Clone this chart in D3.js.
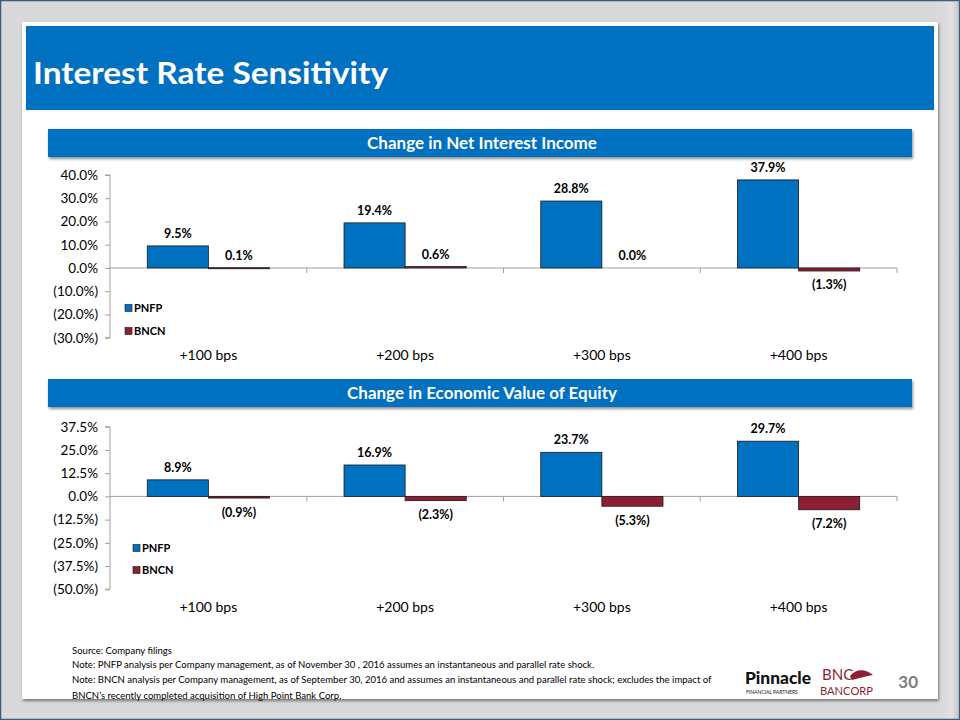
<!DOCTYPE html>
<html><head><meta charset="utf-8">
<script src="https://cdn.jsdelivr.net/npm/d3@7"></script>
<style>body{margin:0;background:#fff}svg{display:block}text{font-family:Lato,"Open Sans",sans-serif}</style>
</head><body><svg id="c" width="960" height="720"></svg>
<script>
const categories = ["+100 bps","+200 bps","+300 bps","+400 bps"];
const seriesNames = ["PNFP","BNCN"];
const niiPNFP = [9.5, 19.4, 28.8, 37.9];
const niiBNCN = [0.1, 0.6, 0.0, -1.3];
const evePNFP = [8.9, 16.9, 23.7, 29.7];
const eveBNCN = [-0.9, -2.3, -5.3, -7.2];
const niiTicks = [-30,-20,-10,0,10,20,30,40];
const eveTicks = [-50,-37.5,-25,-12.5,0,12.5,25,37.5];
const colors = {PNFP:"#0070C0", BNCN:"#8C1F33"};
const footnotes = [
 "Source: Company filings",
 "Note: PNFP analysis per Company management, as of November 30 , 2016 assumes an instantaneous and parallel rate shock.",
 "Note: BNCN analysis per Company management, as of September 30, 2016 and assumes an instantaneous and parallel rate shock; excludes the impact of",
 "BNCN\u2019s recently completed acquisition of High Point Bank Corp."
];

const svg = d3.select("#c");
const defs = svg.append("defs");
const f = defs.append("filter").attr("id","sh").attr("x","-5%").attr("y","-20%").attr("width","110%").attr("height","160%");
f.append("feGaussianBlur").attr("in","SourceAlpha").attr("stdDeviation",1.5);
f.append("feOffset").attr("dx",1).attr("dy",2).attr("result","o");
f.append("feComponentTransfer").append("feFuncA").attr("type","linear").attr("slope",0.45);
const m = f.append("feMerge"); m.append("feMergeNode"); m.append("feMergeNode").attr("in","SourceGraphic");

// fit helper: pick a font size so the natural width matches the target
function fitText(sel, target, maxSize){
  sel.attr("font-size", maxSize);
  const w = sel.node().getComputedTextLength();
  const s = Math.min(maxSize, maxSize*target/w);
  sel.attr("font-size", s);
  return s;
}

// frame
svg.append("rect").attr("x",0.5).attr("y",0.5).attr("width",959).attr("height",719).attr("fill","#d9d9d9").attr("stroke","#3c5a86").attr("stroke-width",1.5);
const g1 = defs.append("linearGradient").attr("id","rg").attr("x1",0).attr("x2",1);
g1.append("stop").attr("offset",0).attr("stop-color","#d9d9d9");
g1.append("stop").attr("offset",0.6).attr("stop-color","#e2e2e2");
g1.append("stop").attr("offset",1).attr("stop-color","#c8c8c8");
svg.append("rect").attr("x",942).attr("y",2).attr("width",16).attr("height",716).attr("fill","url(#rg)");
svg.append("rect").attr("x",22).attr("y",22).attr("width",916).attr("height",677).attr("fill","#fff").attr("filter","url(#sh)");
svg.append("rect").attr("x",26).attr("y",26).attr("width",908).attr("height",84).attr("fill","#0070C0");
svg.append("text").attr("x",33).attr("y",84).attr("fill","#fff").attr("font-size",31).attr("font-weight",700)
  .attr("textLength",355).attr("lengthAdjust","spacingAndGlyphs").text("Interest Rate Sensitivity");

function fmt(v){ const s = Math.abs(v).toFixed(1)+"%"; return v<0 ? "("+s+")" : s; }

function chart(opt){
  const {title, barY, pnfp, bncn, ticks, domain, yTop, yBot, catY, legX, legY} = opt;
  svg.append("rect").attr("x",48).attr("y",barY).attr("width",864).attr("height",28).attr("fill","#0070C0").attr("filter","url(#sh)");
  svg.append("text").attr("x",482).attr("y",barY+19.5).attr("text-anchor","middle").attr("fill","#fff")
    .attr("font-size",17).attr("font-weight",700).text(title);
  const y = d3.scaleLinear().domain(domain).range([yBot,yTop]);
  const x0 = d3.scaleBand().domain(categories).range([110,897]);
  const x1 = d3.scaleBand().domain(seriesNames).range([0,x0.bandwidth()]).paddingInner(0).paddingOuter(0.61);
  const g = svg.append("g");
  const ya = g.append("g").attr("transform","translate(110,0)").call(d3.axisLeft(y).tickValues(ticks).tickFormat(fmt).tickSize(5).tickPadding(7));
  ya.select(".domain").attr("stroke","#a0a0a0").attr("d",`M-5,${yTop}H0V${yBot}H-5`);
  ya.selectAll(".tick line").attr("stroke","#a0a0a0");
  ya.selectAll(".tick text").attr("font-size",13.5).attr("fill","#000").attr("font-family","Lato,sans-serif");
  const y0 = y(0);
  g.append("line").attr("x1",110).attr("x2",897).attr("y1",y0).attr("y2",y0).attr("stroke","#a0a0a0");
  const bounds = categories.map(c=>x0(c)).concat([897]).slice(1);
  g.selectAll(".ct").data(bounds).join("line").attr("x1",d=>d).attr("x2",d=>d).attr("y1",y0).attr("y2",y0+5).attr("stroke","#a0a0a0");
  const rows = [];
  categories.forEach((c,i)=>{ rows.push({c,s:"PNFP",v:pnfp[i]}); rows.push({c,s:"BNCN",v:bncn[i]}); });
  g.selectAll(".bar").data(rows.filter(d=>d.v!==0)).join("rect")
    .attr("x",d=>x0(d.c)+x1(d.s)).attr("width",x1.bandwidth())
    .attr("y",d=>Math.min(y(d.v),y0)).attr("height",d=>Math.max(Math.abs(y(d.v)-y0),1))
    .attr("fill",d=>colors[d.s]).attr("stroke","#1a1a1a").attr("stroke-width",0.8);
  g.selectAll(".lbl").data(rows).join("text")
    .attr("x",d=>x0(d.c)+x1(d.s)+x1.bandwidth()/2)
    .attr("y",d=> d.v<0 ? y(d.v)+18.5 : y(d.v)-8)
    .attr("text-anchor","middle").attr("font-size",12.5).attr("font-weight",700).attr("fill","#000").text(d=>fmt(d.v));
  g.selectAll(".cat").data(categories).join("text").attr("x",d=>x0(d)+x0.bandwidth()/2).attr("y",catY+5)
    .attr("text-anchor","middle").attr("font-size",14).attr("fill","#000").text(d=>d);
  seriesNames.forEach((s,i)=>{
    const ly = legY[i];
    g.append("rect").attr("x",legX).attr("y",ly-3.5).attr("width",7).attr("height",7).attr("fill",colors[s]).attr("stroke","#1a1a1a").attr("stroke-width",0.6);
    g.append("text").attr("x",legX+9).attr("y",ly+4).attr("font-size",11).attr("font-weight",700).attr("fill","#000").text(s);
  });
}

chart({title:"Change in Net Interest Income", barY:129, pnfp:niiPNFP, bncn:niiBNCN, ticks:niiTicks, domain:[-30,40], yTop:175, yBot:337.7, catY:355, legX:125, legY:[308,331]});
chart({title:"Change in Economic Value of Equity", barY:379, pnfp:evePNFP, bncn:eveBNCN, ticks:eveTicks, domain:[-50,37.5], yTop:426.7, yBot:589.3, catY:607, legX:133, legY:[548,570]});

// footnotes: one shared size, chosen so the longest line ends where the reference's does
const fn = svg.selectAll(".fn").data(footnotes).join("text").attr("x",72).attr("y",(d,i)=>[654,668,683,699][i])
  .attr("fill","#000").attr("font-family","'DejaVu Sans Condensed','DejaVu Sans',sans-serif").attr("font-stretch","condensed")
  .text(d=>d);
const fs = fitText(d3.select(fn.nodes()[2]), 640, 11.5);
fn.attr("font-size", fs);

// logos
const pin = svg.append("text").attr("x",745).attr("y",684).attr("font-weight",900).attr("fill","#111")
  .attr("font-family","'DejaVu Sans Condensed','DejaVu Sans',sans-serif").attr("font-stretch","condensed").text("Pinnacle");
fitText(pin, 66, 19);
const fp = svg.append("text").attr("x",746).attr("y",693.5).attr("fill","#111").text("FINANCIAL PARTNERS");
fitText(fp, 64, 5);
svg.append("text").attr("x",822).attr("y",680).attr("font-size",15).attr("fill","#8C1F33").attr("font-family","'Liberation Serif',serif").text("BNC");
svg.append("path").attr("d","M850,676 C856,668 866,669 873,675 C866,676 860,678 852,680 Z").attr("fill","#8C1F33");
const bc = svg.append("text").attr("x",820).attr("y",695).attr("fill","#8C1F33").attr("font-family","'Liberation Serif',serif").text("BANCORP");
fitText(bc, 53, 12);
svg.append("text").attr("x",918).attr("y",688).attr("text-anchor","end").attr("font-size",17).attr("font-weight",700).attr("fill","#7f7f7f").attr("font-family","'Open Sans',sans-serif").text("30");
</script></body></html>
